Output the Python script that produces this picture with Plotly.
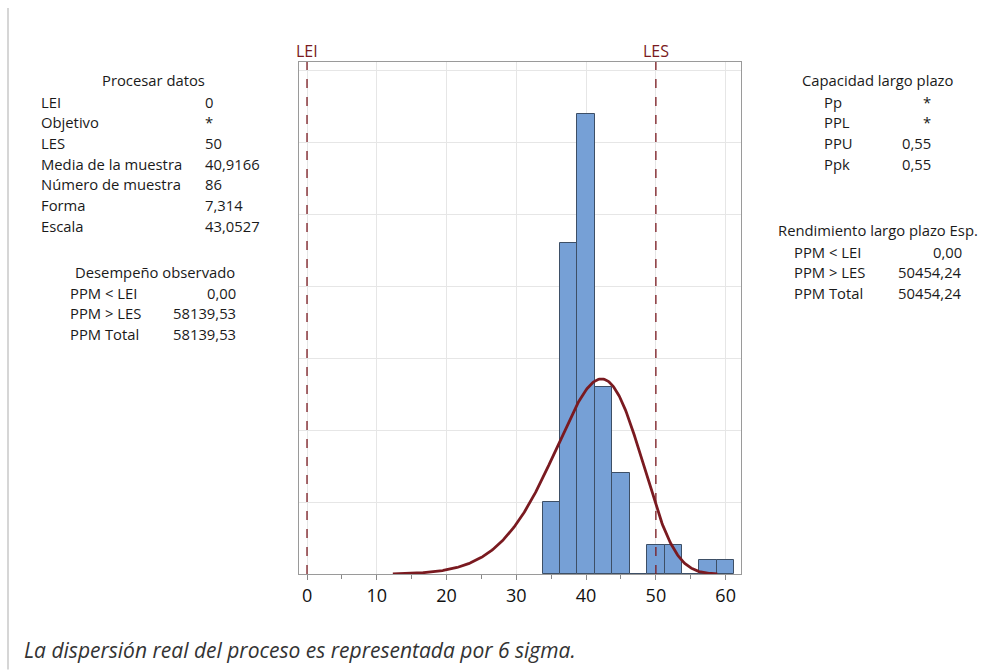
import numpy as np
import plotly.graph_objects as go

# ---- data ----
bin_centers = [35, 37.5, 40, 42.5, 45, 47.5, 50, 52.5, 55, 57.5, 60]
bin_counts = [5, 23, 32, 13, 7, 0, 2, 2, 0, 1, 1]
bin_width = 2.5
n_samples = 86
weib_shape = 7.314
weib_scale = 43.0527
curve_x_min, curve_x_max = 12.3, 58.8
lei, les = 0, 50
x_ticks = [0, 10, 20, 30, 40, 50, 60]

left_title1 = "Procesar datos"
left_rows1 = [("LEI", "0"), ("Objetivo", "*"), ("LES", "50"),
              ("Media de la muestra", "40,9166"), ("Número de muestra", "86"),
              ("Forma", "7,314"), ("Escala", "43,0527")]
left_title2 = "Desempeño observado"
left_rows2 = [("PPM < LEI", "0,00"), ("PPM > LES", "58139,53"), ("PPM Total", "58139,53")]
right_title1 = "Capacidad largo plazo"
right_rows1 = [("Pp", "*"), ("PPL", "*"), ("PPU", "0,55"), ("Ppk", "0,55")]
right_title2 = "Rendimiento largo plazo Esp."
right_rows2 = [("PPM < LEI", "0,00"), ("PPM > LES", "50454,24"), ("PPM Total", "50454,24")]
caption = "La dispersión real del proceso es representada por 6 sigma."

# ---- geometry ----
W, H = 1003, 670
PL, PR, PT, PB = 299, 741, 62, 574.5

def px(x):
    return (x - PL) / (PR - PL)

def py(y):
    return (PB - y) / (PB - PT)

FONT = "Open Sans"
TXT = "#1a1a1a"
RED = "#7a1a20"

xc = np.linspace(curve_x_min, curve_x_max, 400)
pdf = (weib_shape / weib_scale) * (xc / weib_scale) ** (weib_shape - 1) * np.exp(-(xc / weib_scale) ** weib_shape)
yc = pdf * n_samples * bin_width

fig = go.Figure()
fig.add_trace(go.Bar(x=bin_centers, y=bin_counts, width=bin_width,
                     marker=dict(color="#76a0d6", line=dict(color="#3d4f66", width=1)),
                     hoverinfo="x+y"))
fig.add_trace(go.Scatter(x=xc, y=yc, mode="lines", line=dict(color=RED, width=2.8),
                         hoverinfo="skip"))

for v, name in [(lei, "LEI"), (les, "LES")]:
    fig.add_shape(type="line", x0=v, x1=v, y0=0, y1=1, xref="x", yref="paper",
                  line=dict(color=RED, width=1.3, dash="dash"))
    fig.add_annotation(x=v, y=py(51), xref="x", yref="paper", text=name, showarrow=False,
                       font=dict(family=FONT, size=16, color=RED), xanchor="center", yanchor="middle")

# left border line
fig.add_shape(type="line", x0=px(8), x1=px(8), y0=py(8), y1=py(670), xref="paper", yref="paper",
              line=dict(color="#d6d6d6", width=2))

def add_text(x, y, text, anchor="left", size=14.8, italic=False, color=TXT):
    fig.add_annotation(x=px(x), y=py(y), xref="paper", yref="paper", text=text, showarrow=False,
                       font=dict(family=FONT, size=size, color=color, style="italic" if italic else "normal"),
                       xanchor=anchor, yanchor="middle")

step = 20.7
add_text(153, 80, left_title1, "center")
for i, (lab, val) in enumerate(left_rows1):
    y = 101.7 + i * step
    add_text(39, y, lab)
    add_text(203, y, val)
add_text(155, 272, left_title2, "center")
for i, (lab, val) in enumerate(left_rows2):
    y = 293 + i * step
    add_text(68, y, lab)
    add_text(238, y, val, "right")

add_text(878, 80, right_title1, "center")
for i, (lab, val) in enumerate(right_rows1):
    y = 101.7 + i * step
    add_text(822, y, lab)
    add_text(933, y, val, "right")
add_text(878, 230, right_title2, "center")
for i, (lab, val) in enumerate(right_rows2):
    y = 251.7 + i * step
    add_text(792, y, lab)
    add_text(964, y, val, "right")

add_text(22, 651, caption, "left", size=21, italic=True, color="#333333")

fig.update_layout(
    width=W, height=H, margin=dict(l=PL, r=W - PR, t=PT, b=H - PB),
    paper_bgcolor="white", plot_bgcolor="white", showlegend=False, bargap=0,
    xaxis=dict(range=[-1.15, 62.2], tickvals=x_ticks, ticks="outside", ticklen=5, tickcolor="#888",
               tickfont=dict(family=FONT, size=18, color="#111111"), showgrid=True, gridcolor="#e6e6e6",
               minor=dict(dtick=5, tick0=0, ticks="outside", ticklen=4, tickcolor="#888", showgrid=False),
               showline=True, linecolor="#9a9a9a", linewidth=1.3, mirror=True, zeroline=False),
    yaxis=dict(range=[0, 35.6], dtick=5, showticklabels=False, ticks="", showgrid=True,
               gridcolor="#e6e6e6", showline=True, linecolor="#9a9a9a", linewidth=1.3, mirror=True,
               zeroline=False),
)

fig.write_html("out.html")
